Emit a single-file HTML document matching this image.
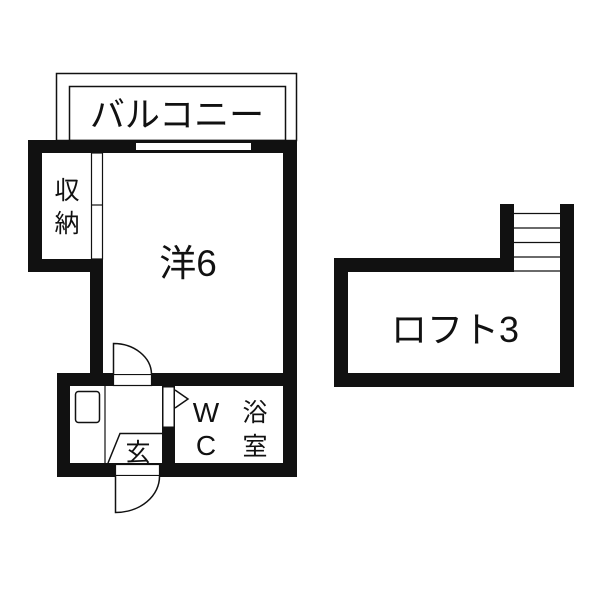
<!DOCTYPE html>
<html><head><meta charset="utf-8"><style>
body{margin:0;background:#fff}
text{font-family:"Liberation Sans","Noto Sans CJK JP",sans-serif;fill:#111}
</style></head><body>
<svg width="600" height="600" viewBox="0 0 600 600" xmlns="http://www.w3.org/2000/svg">
<rect width="600" height="600" fill="#fff"/>
<rect x="56.5" y="73.5" width="240" height="67" fill="none" stroke="#111" stroke-width="1.5"/>
<rect x="69.5" y="86.5" width="216" height="54" fill="none" stroke="#111" stroke-width="1.5"/>
<text x="177" y="127" font-size="35" text-anchor="middle">バルコニー</text>
<g fill="#111">
<rect x="28" y="140" width="269" height="13"/>
<rect x="28" y="140" width="14" height="132"/>
<rect x="28" y="259" width="75" height="13"/>
<rect x="90" y="259" width="13" height="127"/>
<rect x="283" y="140" width="14" height="337"/>
<rect x="57" y="373" width="240" height="13"/>
<rect x="57" y="373" width="13" height="104"/>
<rect x="57" y="463" width="240" height="14"/>
<rect x="162" y="386" width="13" height="77"/>
</g>
<rect x="135.5" y="142.5" width="116" height="8" fill="#fff" stroke="#111" stroke-width="1"/>
<rect x="91.5" y="153" width="11" height="106" fill="#fff" stroke="#111" stroke-width="1.2"/>
<line x1="91" y1="205" x2="103" y2="205" stroke="#111" stroke-width="1.2"/>
<text x="67" y="199" font-size="25" text-anchor="middle">収</text>
<text x="67" y="232" font-size="25" text-anchor="middle">納</text>
<text x="188" y="276" font-size="37" text-anchor="middle">洋6</text>
<rect x="113.5" y="374.5" width="38" height="11" fill="#fff" stroke="#111" stroke-width="1.2"/>
<path d="M113.5 374 V343.5 A38 31 0 0 1 151.5 374" fill="#fff" stroke="#111" stroke-width="1.5"/>
<rect x="75.5" y="391.5" width="24" height="31" rx="3" fill="none" stroke="#111" stroke-width="1.5"/>
<line x1="105" y1="386" x2="105" y2="463" stroke="#111" stroke-width="1.2"/>
<rect x="163" y="387" width="11" height="40" fill="#fff" stroke="#111" stroke-width="1"/>
<path d="M175 390 L188 399 L175 408" fill="none" stroke="#111" stroke-width="1.5"/>
<path d="M108 463 L120 433.5 H162" fill="none" stroke="#111" stroke-width="1.5"/>
<text x="138" y="461" font-size="25" text-anchor="middle">玄</text>
<rect x="115.5" y="464.5" width="44" height="11" fill="#fff" stroke="#111" stroke-width="1.2"/>
<path d="M115.5 476 V512.5 A44 36 0 0 0 159.5 476" fill="#fff" stroke="#111" stroke-width="1.5"/>
<text x="206" y="422" font-size="28" text-anchor="middle">W</text>
<text x="206" y="455" font-size="28" text-anchor="middle">C</text>
<text x="255" y="421" font-size="25" text-anchor="middle">浴</text>
<text x="255" y="455" font-size="25" text-anchor="middle">室</text>
<g fill="#111">
<rect x="334" y="258" width="180" height="14"/>
<rect x="334" y="258" width="14" height="129"/>
<rect x="334" y="373" width="240" height="14"/>
<rect x="560" y="204" width="14" height="183"/>
<rect x="500" y="204" width="14" height="68"/>
</g>
<g stroke="#111" stroke-width="1.2">
<line x1="514" y1="213.5" x2="560" y2="213.5"/>
<line x1="514" y1="228" x2="560" y2="228"/>
<line x1="514" y1="242.5" x2="560" y2="242.5"/>
<line x1="514" y1="257" x2="560" y2="257"/>
<line x1="514" y1="271" x2="560" y2="271"/>
</g>
<text x="455" y="342" font-size="36" text-anchor="middle">ロフト3</text>
</svg>
</body></html>
